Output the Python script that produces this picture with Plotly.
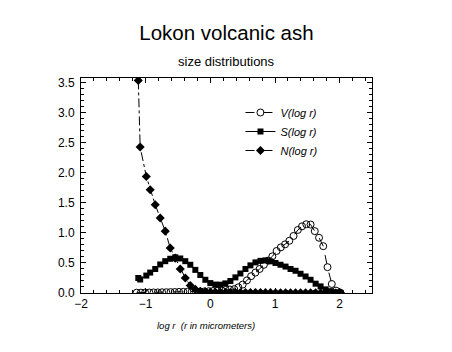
import plotly.graph_objects as go

# common log r grid for S and N
log_r = [-1.114, -1.085, -0.99, -0.93, -0.852, -0.775, -0.697, -0.620, -0.542, -0.465,
         -0.387, -0.310, -0.232, -0.155, -0.077, 0.000, 0.078, 0.155, 0.233, 0.310,
         0.388, 0.465, 0.543, 0.620, 0.698, 0.775, 0.853, 0.930, 1.008, 1.085,
         1.163, 1.240, 1.318, 1.395, 1.473, 1.550, 1.628, 1.705, 1.783, 1.860,
         1.938, 2.015]

S_vals = [0.25, 0.225, 0.29, 0.34, 0.40, 0.475, 0.53, 0.57, 0.595, 0.575,
          0.53, 0.47, 0.385, 0.30, 0.22, 0.165, 0.14, 0.138, 0.16, 0.20,
          0.26, 0.325, 0.40, 0.46, 0.51, 0.535, 0.543, 0.527, 0.50, 0.47,
          0.44, 0.40, 0.37, 0.32, 0.275, 0.22, 0.155, 0.11, 0.06, 0.03,
          0.012, 0.002]

N_vals = [3.54, 2.43, 1.94, 1.72, 1.47, 1.25, 1.03, 0.75, 0.58, 0.40,
          0.25, 0.125, 0.06, 0.03, 0.02, 0.014, 0.012, 0.011, 0.010, 0.009,
          0.009, 0.008, 0.008, 0.007, 0.007, 0.006, 0.006, 0.006, 0.005, 0.005,
          0.005, 0.004, 0.004, 0.004, 0.003, 0.003, 0.003, 0.002, 0.002, 0.002,
          0.001, 0.001]

# V(log r) sampled on a slightly finer grid
log_r_v = [-1.140, -1.074, -1.009, -0.943, -0.878, -0.812, -0.746, -0.681, -0.615, -0.550,
           -0.484, -0.418, -0.353, -0.287, -0.222, -0.156, -0.090, -0.025, 0.041, 0.106,
           0.172, 0.238, 0.303, 0.369, 0.434, 0.500, 0.566, 0.631, 0.697, 0.762,
           0.828, 0.894, 0.959, 1.025, 1.090, 1.156, 1.222, 1.287, 1.353, 1.418,
           1.484, 1.550, 1.615, 1.681, 1.746, 1.812, 1.878, 1.943, 2.009]

V_vals = [0.005, 0.006, 0.007, 0.008, 0.009, 0.010, 0.012, 0.013, 0.015, 0.016,
          0.018, 0.019, 0.020, 0.022, 0.023, 0.025, 0.027, 0.030, 0.033, 0.038,
          0.045, 0.052, 0.058, 0.065, 0.095, 0.14, 0.21, 0.28, 0.34, 0.40,
          0.47, 0.54, 0.61, 0.70, 0.76, 0.81, 0.87, 0.95, 1.05, 1.11,
          1.145, 1.14, 1.03, 0.92, 0.78, 0.43, 0.15, 0.04, 0.005]

x_ticks = [-2, -1, 0, 1, 2]
y_ticks = [0.0, 0.5, 1.0, 1.5, 2.0, 2.5, 3.0, 3.5]

FONT = "Liberation Sans, Arial, sans-serif"

fig = go.Figure()
fig.add_trace(go.Scatter(
    x=log_r_v, y=V_vals, mode="lines+markers", name="<i>V(log r)</i>",
    line=dict(color="black", width=1, dash="dash"),
    marker=dict(symbol="circle-open", size=7, color="black", line=dict(width=1))))
fig.add_trace(go.Scatter(
    x=log_r, y=S_vals, mode="lines+markers", name="<i>S(log r)</i>",
    line=dict(color="black", width=1),
    marker=dict(symbol="square", size=6, color="black")))
fig.add_trace(go.Scatter(
    x=log_r, y=N_vals, mode="lines+markers", name="<i>N(log r)</i>",
    line=dict(color="black", width=1, dash="dashdot"),
    marker=dict(symbol="diamond", size=7, color="black")))

axis_common = dict(
    showgrid=False, zeroline=False, showline=True, linecolor="black", linewidth=1,
    mirror="ticks", ticks="inside", ticklen=5, tickcolor="black", tickwidth=1,
    tickfont=dict(family=FONT, size=12, color="black"),
)

fig.update_xaxes(range=[-2, 2.5], tickvals=x_ticks,
                 minor=dict(dtick=0.2, ticks="inside", ticklen=3, tickcolor="black"),
                 **axis_common)
fig.update_yaxes(range=[0, 3.58], tickvals=y_ticks, tickformat=".1f",
                 ticklabelstandoff=3,
                 minor=dict(dtick=0.1, ticks="inside", ticklen=3, tickcolor="black"),
                 **axis_common)

fig.update_layout(
    width=452, height=352,
    margin=dict(l=81, r=80, t=78, b=59),
    paper_bgcolor="white", plot_bgcolor="white",
    showlegend=True,
    legend=dict(x=0.548, y=0.907, xanchor="left", yanchor="top",
                bgcolor="rgba(0,0,0,0)", borderwidth=0,
                font=dict(family=FONT, size=11, color="black"),
                tracegroupgap=0, itemwidth=30),
    title=dict(text="Lokon volcanic ash", x=0.5, xref="paper", y=1 - 33 / 352,
               yref="container", yanchor="middle", xanchor="center",
               font=dict(family=FONT, size=20.5, color="black")),
    annotations=[
        dict(text="size distributions", xref="paper", yref="paper",
             x=0.5, y=1 + (78 - 62) / 214.7, xanchor="center", yanchor="middle",
             showarrow=False, font=dict(family=FONT, size=13, color="black")),
        dict(text="<i>log r  (r in micrometers)</i>", xref="paper", yref="paper",
             x=(206 - 81) / 291, y=-(325 - 292.7) / 214.7, xanchor="center", yanchor="middle",
             showarrow=False, font=dict(family=FONT, size=9.5, color="black")),
    ],
)

fig.write_html("out.html")
